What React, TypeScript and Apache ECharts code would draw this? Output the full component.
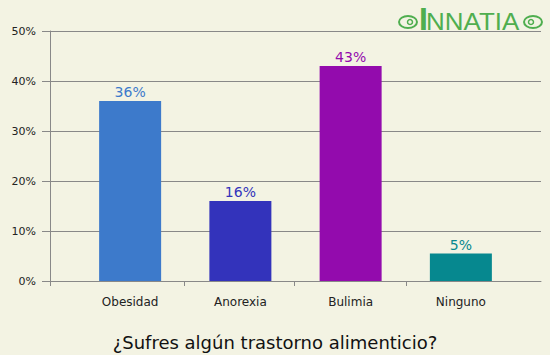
import React, { useEffect, useRef } from "react";
import * as echarts from "echarts";

const categories = ["Obesidad", "Anorexia", "Bulimia", "Ninguno"];
const values = [36, 16, 43, 5.5];
const labelTexts = ["36%", "16%", "43%", "5%"];
const barColors = ["#3d7acb", "#3333bb", "#930bad", "#06888f"];
const yTicks = [0, 10, 20, 30, 40, 50];
const title = "¿Sufres algún trastorno alimenticio?";

const FONT = "DejaVu Sans";
const GREEN = "#4fae4f";

export default function App() {
  const ref = useRef<HTMLDivElement>(null);
  useEffect(() => {
    const chart = echarts.init(ref.current!, null, { renderer: "svg" });
    const yMax = yTicks[yTicks.length - 1];
    const yInt = yTicks[1] - yTicks[0];
    chart.setOption({
      animation: false,
      backgroundColor: "#f3f3e3",
      title: {
        text: title,
        left: "center",
        top: 328,
        textStyle: { fontFamily: FONT, fontSize: 18, fontWeight: "normal", color: "#111" },
      },
      grid: [
        { left: 50, right: 9, top: 31, bottom: 74 },
        { left: 75, right: 34, top: 31, bottom: 74 },
      ],
      xAxis: [
        {
          gridIndex: 0,
          type: "value",
          min: 0,
          max: 491,
          axisLine: { show: true, lineStyle: { color: "#888", width: 1 } },
          axisTick: { show: true, customValues: [0, 134, 244, 356], length: 5, lineStyle: { color: "#888" } },
          axisLabel: { show: false },
          splitLine: { show: false },
        },
        {
          gridIndex: 1,
          type: "category",
          data: categories,
          axisLine: { show: false },
          axisTick: { show: false },
          axisLabel: { fontFamily: FONT, fontSize: 12, color: "#222", margin: 15 },
        },
      ],
      yAxis: [
        {
          gridIndex: 0,
          type: "value",
          min: 0,
          max: yMax,
          interval: yInt,
          axisLine: { show: true, lineStyle: { color: "#888", width: 1 } },
          axisTick: { show: true, length: 8, lineStyle: { color: "#888" } },
          axisLabel: { fontFamily: FONT, fontSize: 11, color: "#222", margin: 14, formatter: (v: number) => v + "%" },
          splitLine: { show: true, lineStyle: { color: "#888", width: 1 } },
        },
        { gridIndex: 1, type: "value", min: 0, max: yMax, show: false },
      ],
      series: [
        {
          type: "bar",
          xAxisIndex: 1,
          yAxisIndex: 1,
          barWidth: 62,
          data: values.map((v, i) => ({
            value: v,
            itemStyle: { color: barColors[i] },
            label: {
              show: true,
              position: "top",
              distance: 2,
              formatter: labelTexts[i],
              fontFamily: FONT,
              fontSize: 14,
              color: barColors[i],
            },
          })),
        },
      ],
      graphic: [
        { type: "ellipse", shape: { cx: 408, cy: 22, rx: 9, ry: 6 }, style: { fill: "none", stroke: GREEN, lineWidth: 2 } },
        { type: "circle", shape: { cx: 410, cy: 22, r: 2.5 }, style: { fill: "none", stroke: GREEN, lineWidth: 1.5 } },
        { type: "text", x: 419, y: 19, style: { text: "I", fontFamily: "Liberation Sans", fontWeight: "bold", fontSize: 32, fill: GREEN, verticalAlign: "middle" } },
        { type: "text", x: 426, y: 22, scaleX: 1.13, style: { text: "NNATIA", fontFamily: "Liberation Sans", fontSize: 23, fill: GREEN, verticalAlign: "middle" } },
        { type: "ellipse", shape: { cx: 533, cy: 22, rx: 9, ry: 6 }, style: { fill: "none", stroke: GREEN, lineWidth: 2 } },
        { type: "circle", shape: { cx: 531, cy: 22, r: 2.5 }, style: { fill: "none", stroke: GREEN, lineWidth: 1.5 } },
      ],
    });
    return () => chart.dispose();
  }, []);
  return <div ref={ref} style={{ position: "fixed", left: 0, top: 0, width: 550, height: 355 }} />;
}
